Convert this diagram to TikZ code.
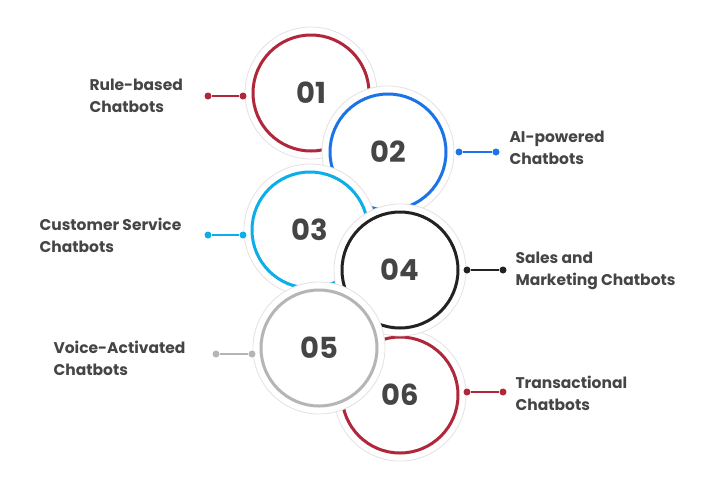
\documentclass[tikz,border=0pt]{standalone}
\usepackage{fontspec}
\setmainfont{Poppins}
\definecolor{cred}{HTML}{B0263A}
\definecolor{cblue}{HTML}{1A73E8}
\definecolor{ccyan}{HTML}{0BAEE8}
\definecolor{cblack}{HTML}{222222}
\definecolor{cgray}{HTML}{B5B5B5}
\definecolor{txt}{HTML}{454545}
\definecolor{halo}{HTML}{E6E0E2}
\begin{document}
\begin{tikzpicture}[x=1pt,y=-1pt,
  lbl/.style={text=txt,font=\fontsize{15.5}{22}\selectfont\bfseries,align=left},
  num/.style={text=txt,font=\fontsize{29}{32}\selectfont\bfseries},
  dotc/.style={circle,inner sep=0pt,minimum size=7pt}]
\useasboundingbox (0,0) rectangle (705,483);
\newcommand\ring[4]{%
  \fill[white,draw=halo,line width=0.8pt] (#1,#2) circle (66);
  \draw[#3,line width=3pt] (#1,#2) circle (58);
  \node[num] (n#4) at (#1,#2) {0#4};}
\ring{400}{395}{cred}{6}
\ring{311}{93}{cred}{1}
\ring{388}{152}{cblue}{2}
\ring{310}{230}{ccyan}{3}
\ring{400}{270}{cblack}{4}
\ring{319}{348}{cgray}{5}
% connectors
\node[dotc,fill=cred] (a1) at (243,96) {};
\node[dotc,fill=cred] (b1) at (208,96) {};
\draw[cred,line width=2pt] (a1)--(b1);
\node[lbl,anchor=west] (t1) at (86,96) {Rule-based\\Chatbots};
\node[dotc,fill=cblue] (a2) at (459,152) {};
\node[dotc,fill=cblue] (b2) at (496,152) {};
\draw[cblue,line width=2pt] (a2)--(b2);
\node[lbl,anchor=west] (t2) at (506,148) {AI-powered\\Chatbots};
\node[dotc,fill=ccyan] (a3) at (243,235) {};
\node[dotc,fill=ccyan] (b3) at (208,235) {};
\draw[ccyan,line width=2pt] (a3)--(b3);
\node[lbl,anchor=west] (t3) at (36,235) {Customer Service\\Chatbots};
\node[dotc,fill=cblack] (a4) at (467,270) {};
\node[dotc,fill=cblack] (b4) at (503,270) {};
\draw[cblack,line width=2pt] (a4)--(b4);
\node[lbl,anchor=west] (t4) at (512,271) {Sales and\\Marketing Chatbots};
\node[dotc,fill=cgray] (a5) at (252,354) {};
\node[dotc,fill=cgray] (b5) at (216,354) {};
\draw[cgray,line width=2pt] (a5)--(b5);
\node[lbl,anchor=west] (t5) at (50,358) {Voice-Activated\\Chatbots};
\node[dotc,fill=cred] (a6) at (467,392) {};
\node[dotc,fill=cred] (b6) at (503,392) {};
\draw[cred,line width=2pt] (a6)--(b6);
\node[lbl,anchor=west] (t6) at (512,393) {Transactional\\Chatbots};
\end{tikzpicture}
\end{document}
